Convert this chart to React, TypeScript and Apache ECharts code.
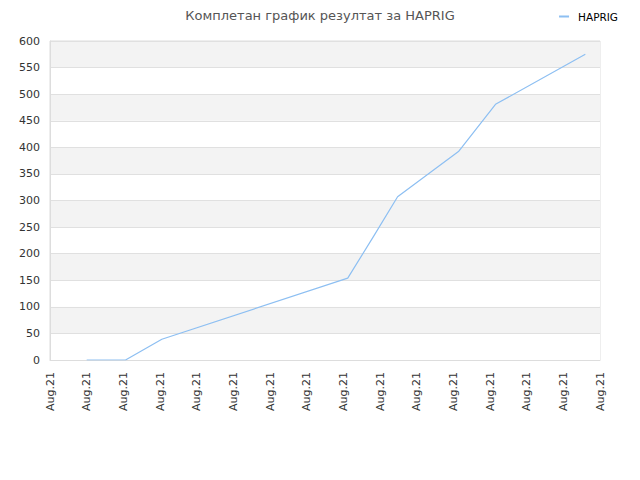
import { useRef, useEffect } from "react";
import * as echarts from "echarts";

const title = "Комплетан график резултат за HAPRIG";
const seriesName = "HAPRIG";
const tickLabel = "Aug.21";
// x is the position along the date axis (0..15 ticks), y the total score
const pointX = [1.0, 2.06, 3.05, 8.12, 8.82, 9.48, 11.14, 12.15, 14.6];
const pointY = [0, 0, 39, 154, 232, 307, 392, 481, 575];

export default function App() {
  const chartRef = useRef<HTMLDivElement>(null);

  useEffect(() => {
    if (!chartRef.current) return;
    const chart = echarts.init(chartRef.current, undefined, { renderer: "svg" });

    const font = "DejaVu Sans, sans-serif";
    chart.setOption({
      animation: false,
      title: {
        text: title,
        left: "center",
        top: 4,
        textStyle: { fontFamily: font, fontSize: 13, fontWeight: "normal", color: "#555" },
      },
      legend: {
        right: 17,
        top: 6,
        icon: "path://M0,0H10V2H0Z M14,0H14.01V2H14Z",
        itemWidth: 14,
        itemHeight: 2,
        textStyle: { fontFamily: font, fontSize: 10.5, color: "#000" },
        data: [seriesName],
      },
      grid: {
        left: 50,
        right: 40,
        top: 41,
        bottom: 120,
        show: true,
        borderColor: "#ddd",
        borderWidth: 1,
      },
      xAxis: {
        type: "value",
        min: 0,
        max: 15,
        interval: 1,
        axisLine: { show: true, lineStyle: { color: "#ddd" } },
        axisTick: { show: false },
        splitLine: { show: false },
        axisLabel: {
          rotate: 90,
          margin: 12,
          fontFamily: font,
          fontSize: 11,
          color: "#333",
          formatter: () => tickLabel,
        },
      },
      yAxis: {
        type: "value",
        min: 0,
        max: 600,
        interval: 50,
        axisLine: { show: true, lineStyle: { color: "#ddd" } },
        axisTick: { show: false },
        splitLine: { show: true, lineStyle: { color: "#e0e0e0" } },
        splitArea: { show: true, areaStyle: { color: ["#ffffff", "#f3f3f3"] } },
        axisLabel: { margin: 10, fontFamily: font, fontSize: 11, color: "#333" },
      },
      series: [
        {
          name: seriesName,
          type: "line",
          data: pointX.map((x, i) => [x, pointY[i]]),
          showSymbol: false,
          symbol: "none",
          lineStyle: { color: "#8dbff2", width: 1.2 },
          itemStyle: { color: "#8dbff2" },
        },
      ],
    });

    return () => {
      chart.dispose();
    };
  }, []);

  return <div ref={chartRef} style={{ width: "640px", height: "480px", margin: "-8px" }} />;
}
